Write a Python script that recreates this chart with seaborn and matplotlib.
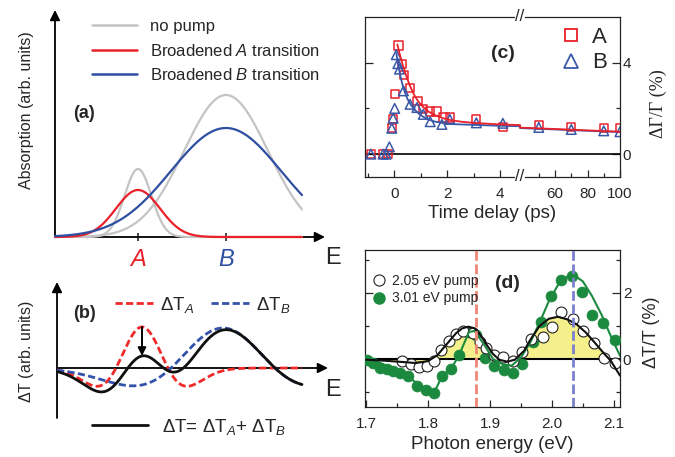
import numpy as np
import matplotlib
matplotlib.use("Agg")
import matplotlib.pyplot as plt
import seaborn as sns
from matplotlib.lines import Line2D
from matplotlib.ticker import FixedLocator

sns.set_theme(style="ticks")
plt.rcParams["font.family"] = ["Liberation Sans", "DejaVu Sans"]
plt.rcParams["mathtext.fontset"] = "custom"
plt.rcParams["mathtext.rm"] = "Liberation Sans"
plt.rcParams["mathtext.it"] = "Liberation Sans:italic"
plt.rcParams["mathtext.bf"] = "Liberation Sans:bold"

# ---------------- (a) schematic absorption: gaussian parameters ----------------
peak_names = ["A", "B"]
peak_pos = [0.83, 1.71]
nopump_height = [0.68, 1.42]
nopump_width = [0.135, 0.42]
broad_height = [0.47, 1.09]
broad_width = [0.22, 0.55]
E_END = 2.47

# ---------------- (b) schematic transmission change ----------------
dt_pos = [0.85, 1.66]
dt_height = [0.41, 0.40]
dt_width = [0.26, 0.52]
dt_sum_height = [0.29, 0.40]   # contribution of A, B in the drawn total
DT_END = 2.45

# ---------------- (c) kinetics ----------------
tA = [-0.88, -0.4, -0.24, -0.09, -0.04, 0.03, 0.16, 0.29, 0.38, 0.6, 0.88, 1.1, 1.36, 1.6,
      1.86, 2.1, 3.1, 4.1, 50, 70, 90, 100]
vA = [0, 0, 0, 1.15, 1.55, 2.62, 4.76, 3.94, 3.47, 2.89, 2.33, 1.98, 1.86, 1.86,
      1.6, 1.6, 1.52, 1.2, 1.27, 1.2, 1.13, 1.13]
tB = [-0.88, -0.42, -0.3, -0.18, -0.09, -0.04, 0.02, 0.08, 0.14, 0.2, 0.35, 0.6, 0.86, 1.1,
      1.36, 1.8, 2.1, 3.1, 4.1, 50, 70, 90, 100]
vB = [0, 0, 0, 0.32, 1.13, 1.57, 2.0, 4.35, 3.96, 3.72, 2.77, 2.18, 2.04, 1.74,
      1.42, 1.3, 1.52, 1.37, 1.35, 1.17, 1.08, 1.02, 0.98]
fitA_t = [0.12, 0.2, 0.3, 0.4, 0.5, 0.6, 0.75, 0.9, 1.1, 1.3, 1.55, 1.85, 2.2, 2.6, 3.1, 4.0,
          4.75, 38.5, 60, 80, 100]
fitA_v = [4.8, 4.42, 4.0, 3.62, 3.28, 2.98, 2.6, 2.32, 2.05, 1.86, 1.7, 1.57, 1.47, 1.41, 1.36,
          1.3, 1.27, 1.16, 1.1, 1.04, 0.98]
fitB_t = [0.08, 0.14, 0.22, 0.3, 0.4, 0.5, 0.62, 0.76, 0.92, 1.1, 1.3, 1.55, 1.85, 2.3, 3.0,
          4.0, 4.75, 38.5, 60, 80, 100]
fitB_v = [4.42, 4.0, 3.5, 3.1, 2.72, 2.42, 2.17, 1.96, 1.78, 1.63, 1.51, 1.42, 1.36, 1.31, 1.28,
          1.24, 1.22, 1.14, 1.08, 1.02, 0.97]
BREAK_LO, BREAK_HI, RIGHT_SCALE = 4.75, 38.5, 0.0613

# ---------------- (d) spectra ----------------
e205 = [1.757, 1.772, 1.786, 1.798, 1.810, 1.821, 1.833, 1.845, 1.857, 1.872, 1.884, 1.894,
        1.907, 1.921, 1.937, 1.951, 1.966, 1.986, 2.000, 2.015, 2.034, 2.051, 2.068, 2.084, 2.102]
v205 = [-0.07, -0.15, -0.25, -0.22, -0.06, 0.28, 0.55, 0.75, 0.85, 0.78, 0.52, 0.35,
        0.12, 0.05, -0.05, 0.2, 0.62, 0.68, 0.98, 1.43, 1.2, 0.85, 0.5, 0.02, -0.13]
e301 = [1.702, 1.711, 1.722, 1.733, 1.743, 1.754, 1.768, 1.782, 1.797, 1.810, 1.823, 1.837,
        1.850, 1.865, 1.877, 1.892, 1.906, 1.923, 1.937, 1.952, 1.969, 1.983, 1.998, 2.014,
        2.033, 2.049, 2.065, 2.083, 2.102]
v301 = [-0.03, -0.13, -0.28, -0.31, -0.36, -0.43, -0.52, -0.82, -0.94, -1.02, -0.52, -0.31,
        0.13, 0.83, 0.74, 0.02, -0.22, -0.33, -0.41, -0.14, 0.53, 1.13, 1.91, 2.4,
        2.5, 2.04, 1.33, 1.08, 0.58]
fit301_e = [1.70, 1.72, 1.74, 1.76, 1.78, 1.795, 1.81, 1.823, 1.837, 1.85, 1.866, 1.875, 1.89,
            1.905, 1.92, 1.935, 1.95, 1.965, 1.98, 1.995, 2.01, 2.025, 2.035, 2.05, 2.065,
            2.08, 2.095, 2.11]
fit301_v = [0.0, -0.1, -0.25, -0.45, -0.7, -0.9, -1.0, -0.5, -0.3, 0.12, 0.82, 0.85, 0.45,
            0.0, -0.15, -0.2, 0.05, 0.5, 1.1, 1.75, 2.25, 2.5, 2.55, 2.35, 1.9, 1.35, 0.7, 0.1]
fit205_e = [1.70, 1.73, 1.76, 1.78, 1.80, 1.815, 1.83, 1.845, 1.855, 1.865, 1.875, 1.885, 1.895,
            1.905, 1.915, 1.928, 1.94, 1.955, 1.965, 1.98, 1.995, 2.01, 2.025, 2.04, 2.055,
            2.07, 2.085, 2.095, 2.11]
fit205_v = [-0.02, -0.05, -0.09, -0.12, -0.06, 0.12, 0.45, 0.78, 0.93, 0.98, 0.93, 0.72, 0.42,
            0.15, -0.02, -0.08, -0.02, 0.25, 0.58, 1.0, 1.22, 1.28, 1.2, 1.05, 0.8,
            0.48, 0.15, -0.05, -0.5]
probe_A, probe_B = 1.877, 2.034

GREY, RED, BLUE = "#c4c4c4", "#e8212b", "#2d4fa1"
GREEN, YELLOW = "#1b8a3f", "#f6f08c"

W, H = 675.0, 457.0
fig = plt.figure(figsize=(6.75, 4.57), dpi=100)


def px_axes(l, t, r, b):
    return fig.add_axes([l / W, 1 - b / H, (r - l) / W, (b - t) / H])


def line(ax, x, y, **kw):
    sns.lineplot(x=np.asarray(x), y=np.asarray(y), ax=ax, sort=False, estimator=None, **kw)
    return ax.lines[-1]


def gauss(x, c, h, w):
    return h * np.exp(-0.5 * ((x - c) / w) ** 2)


def hat(x, c, h, w):
    u = (x - c) / w
    return h * (1 - u ** 2) * np.exp(-0.5 * u ** 2)


arrow_kw = dict(arrowstyle="-|>", color="black", lw=1.3, mutation_scale=15, shrinkA=0, shrinkB=0)

# ======================= (a) =======================
ax_a = px_axes(55, 5, 335, 237)
ax_a.set_xlim(0, 2.8)
ax_a.set_ylim(0, 2.32)
for s in ax_a.spines.values():
    s.set_visible(False)
ax_a.set_yticks([])
ax_a.set_xticks(peak_pos)
ax_a.set_xticklabels(peak_names, fontsize=17, fontstyle="italic")
for lbl, c in zip(ax_a.get_xticklabels(), [RED, BLUE]):
    lbl.set_color(c)
ax_a.tick_params(axis="x", direction="inout", length=6, width=1.2, pad=5)
ax_a.annotate("", xy=(2.7, 0), xytext=(0, 0), arrowprops=arrow_kw, annotation_clip=False)
ax_a.annotate("", xy=(0, 2.27), xytext=(0, 0), arrowprops=arrow_kw, annotation_clip=False)

energy = np.linspace(0, E_END, 500)
for i in range(2):
    line(ax_a, energy, gauss(energy, peak_pos[i], nopump_height[i], nopump_width[i]),
         color=GREY, lw=1.6, clip_on=False, zorder=3)
line(ax_a, energy, gauss(energy, peak_pos[0], broad_height[0], broad_width[0]),
     color=RED, lw=1.6, clip_on=False, zorder=4)
line(ax_a, energy, gauss(energy, peak_pos[1], broad_height[1], broad_width[1]),
     color=BLUE, lw=1.6, clip_on=False, zorder=4)
ax_a.text(2.78, -0.21, "E", fontsize=17, ha="center", va="center")
handles = [Line2D([], [], color=c, lw=1.8) for c in (GREY, RED, BLUE)]
ax_a.legend(handles, ["no pump", r"Broadened $\mathit{A}$ transition",
                      r"Broadened $\mathit{B}$ transition"],
            loc="upper left", bbox_to_anchor=(92 / W, 1 - 19 / H), bbox_transform=fig.transFigure,
            frameon=False, fontsize=12, handlelength=2.7, handletextpad=0.8, labelspacing=0.52,
            borderpad=0, borderaxespad=0)
fig.text(84 / W, 1 - 114 / H, "(a)", fontsize=13, fontweight="bold", ha="center", va="center")
fig.text(26 / W, 1 - 110 / H, "Absorption (arb. units)", fontsize=11.5, rotation=90,
         ha="center", va="center")

# ======================= (b) =======================
ax_b = px_axes(57, 275, 335, 420)
ax_b.set_xlim(0, 2.78)
ax_b.set_ylim(-0.52, 0.93)
ax_b.axis("off")
ax_b.annotate("", xy=(2.71, 0), xytext=(0, 0), arrowprops=arrow_kw, annotation_clip=False)
ax_b.annotate("", xy=(0, 0.86), xytext=(0, -0.5), arrowprops=arrow_kw, annotation_clip=False)

ex = np.linspace(0, DT_END, 500)
dtA = hat(ex, dt_pos[0], dt_height[0], dt_width[0])
dtB = hat(ex, dt_pos[1], dt_height[1], dt_width[1])
dt_total = hat(ex, dt_pos[0], dt_sum_height[0], dt_width[0]) + dtB
la = line(ax_b, ex, dtA, color="#ee2a2a", lw=2.0, zorder=3)
la.set_dashes((2.6, 1.2))
lb = line(ax_b, ex, dtB, color="#3352aa", lw=2.0, zorder=3)
lb.set_dashes((2.6, 1.2))
line(ax_b, ex, dt_total, color="#111111", lw=2.0, zorder=4)
top_a = hat(dt_pos[0], dt_pos[0], dt_height[0], dt_width[0])
top_sum = hat(dt_pos[0], dt_pos[0], dt_sum_height[0], dt_width[0]) + \
    hat(dt_pos[0], dt_pos[1], dt_height[1], dt_width[1])
ax_b.annotate("", xy=(dt_pos[0], top_sum), xytext=(dt_pos[0], top_a),
              arrowprops=dict(arrowstyle="-|>", color="black", lw=1.4, mutation_scale=12,
                              shrinkA=0, shrinkB=0), zorder=6)
ax_b.text(2.76, -0.22, "E", fontsize=17, ha="center", va="center")

hA = Line2D([], [], color="#ee2a2a", lw=2.0, dashes=(2.6, 1.2))
hB = Line2D([], [], color="#3352aa", lw=2.0, dashes=(2.6, 1.2))
leg1 = ax_b.legend([hA, hB], [r"$\Delta$T$_{\mathit{A}}$", r"$\Delta$T$_{\mathit{B}}$"],
                   loc="upper left", bbox_to_anchor=(115 / W, 1 - 295 / H),
                   bbox_transform=fig.transFigure, ncol=2, frameon=False, fontsize=13.5,
                   handlelength=2.0, handletextpad=0.4, columnspacing=0.9, borderpad=0,
                   borderaxespad=0)
ax_b.add_artist(leg1)
hT = Line2D([], [], color="#111111", lw=2.0)
ax_b.legend([hT], [r"$\Delta$T= $\Delta$T$_{\mathit{A}}$+ $\Delta$T$_{\mathit{B}}$"],
            loc="upper left", bbox_to_anchor=(92 / W, 1 - 417 / H),
            bbox_transform=fig.transFigure, frameon=False, fontsize=13.5,
            handlelength=3.0, handletextpad=0.75, borderpad=0, borderaxespad=0)
fig.text(84 / W, 1 - 313 / H, "(b)", fontsize=13, fontweight="bold", ha="center", va="center")
fig.text(26 / W, 1 - 352 / H, r"$\Delta$T (arb. units)", fontsize=11.5, rotation=90,
         ha="center", va="center")


# ======================= (c) =======================
def fwd(t):
    t = np.asarray(t, dtype=float)
    return np.where(t <= BREAK_LO, t, BREAK_LO + np.clip(t - BREAK_HI, 0, None) * RIGHT_SCALE)


def inv(u):
    u = np.asarray(u, dtype=float)
    return np.where(u <= BREAK_LO, u, BREAK_HI + (u - BREAK_LO) / RIGHT_SCALE)


ax_c = px_axes(365, 17, 620, 177)
ax_c.set_xscale("function", functions=(fwd, inv))
ax_c.set_xlim(-1.1, 100)
ax_c.set_ylim(-1.0, 6.0)
ax_c.axhline(0, color="black", lw=1.2, zorder=1)
sns.scatterplot(x=tA, y=vA, ax=ax_c, marker="s", s=36, facecolor="none", edgecolor=RED,
                linewidth=1.1, zorder=3)
sns.scatterplot(x=tB, y=vB, ax=ax_c, marker="^", s=48, facecolor="none", edgecolor="#3a58a8",
                linewidth=1.1, zorder=3)
line(ax_c, fitB_t, fitB_v, color="#3a58a8", lw=1.3, zorder=4)
line(ax_c, fitA_t, fitA_v, color=RED, lw=1.3, zorder=4)
ax_c.xaxis.set_major_locator(FixedLocator([0, 2, 4, 60, 80, 100]))
ax_c.xaxis.set_minor_locator(FixedLocator([-1, 1, 3, 50, 70, 90]))
ax_c.set_xticklabels(["0", "2", "4", "60", "80", "100"])
ax_c.yaxis.set_major_locator(FixedLocator([0, 4]))
ax_c.yaxis.set_minor_locator(FixedLocator([2]))
ax_c.tick_params(axis="both", which="both", direction="in", labelsize=11, width=0.9)
ax_c.tick_params(axis="x", which="major", length=5, pad=7, top=False)
ax_c.tick_params(axis="x", which="minor", length=3, top=False)
ax_c.tick_params(axis="y", which="major", length=6, pad=2, left=True, right=True,
                 labelleft=False, labelright=True)
ax_c.tick_params(axis="y", which="minor", length=3, left=True, right=True)
for s in ax_c.spines.values():
    s.set_linewidth(0.9)
    s.set_color("#222222")
ax_c.set_xlabel("Time delay (ps)", fontsize=13.5, labelpad=3)
for yy in (0, 1):
    ax_c.text(BREAK_LO, yy, "//", transform=ax_c.get_xaxis_transform(), fontsize=12,
              ha="center", va="center", clip_on=False,
              bbox=dict(facecolor="white", edgecolor="none", pad=0.3))
hsq = Line2D([], [], marker="s", ls="none", ms=9, mfc="none", mec=RED, mew=1.3)
htr = Line2D([], [], marker="^", ls="none", ms=10, mfc="none", mec="#3a58a8", mew=1.3)
ax_c.legend([hsq, htr], ["A", "B"], loc="upper left", bbox_to_anchor=(560 / W, 1 - 27 / H),
            bbox_transform=fig.transFigure, frameon=False, fontsize=16, handlelength=1.0,
            handletextpad=0.45, labelspacing=0.2, borderpad=0, borderaxespad=0)
fig.text(503 / W, 1 - 53 / H, "(c)", fontsize=14, fontweight="bold", ha="center", va="center")
fig.text(658 / W, 1 - 104 / H, "ΔΓ/Γ (%)", fontsize=13, rotation=90, ha="center", va="center",
         family=["Liberation Serif", "DejaVu Serif"])

# ======================= (d) =======================
ax_d = px_axes(365, 250, 620, 407)
ax_d.set_xlim(1.698, 2.11)
ax_d.set_ylim(-1.45, 3.3)
fe = np.asarray(fit205_e)
fv = np.asarray(fit205_v)
ax_d.fill_between(fe, fv, 0, where=(fe >= 1.76) & (fe <= 2.09) & ((fv > 0) | (fe < 1.81)),
                  interpolate=True, color=YELLOW, lw=0, zorder=1)
ax_d.axhline(0, color="black", lw=1.5, zorder=2)
sns.scatterplot(x=e301, y=v301, ax=ax_d, marker="o", s=62, color=GREEN, edgecolor=GREEN,
                linewidth=0.5, zorder=3)
sns.scatterplot(x=e205, y=v205, ax=ax_d, marker="o", s=62, facecolor="white", edgecolor="#222222",
                linewidth=0.8, zorder=3)
line(ax_d, fit301_e, fit301_v, color=GREEN, lw=1.5, zorder=4)
line(ax_d, fit205_e, fit205_v, color="#111111", lw=1.5, zorder=4)
va_ = ax_d.axvline(probe_A, color="#f08676", lw=2.0, zorder=5)
va_.set_dashes((3.5, 1.3))
vb_ = ax_d.axvline(probe_B, color="#7b80cc", lw=2.0, zorder=5)
vb_.set_dashes((3.5, 1.3))
ax_d.xaxis.set_major_locator(FixedLocator([1.7, 1.8, 1.9, 2.0, 2.1]))
ax_d.xaxis.set_minor_locator(FixedLocator([1.75, 1.85, 1.95, 2.05]))
ax_d.set_xticklabels(["1.7", "1.8", "1.9", "2.0", "2.1"])
ax_d.yaxis.set_major_locator(FixedLocator([0, 2]))
ax_d.yaxis.set_minor_locator(FixedLocator([-1, 1, 3]))
ax_d.tick_params(axis="both", which="both", direction="in", labelsize=11, width=0.9)
ax_d.tick_params(axis="x", which="major", length=5, pad=7, top=False)
ax_d.tick_params(axis="x", which="minor", length=3, top=False)
ax_d.tick_params(axis="y", which="major", length=6, pad=2, left=True, right=True,
                 labelleft=False, labelright=True)
ax_d.tick_params(axis="y", which="minor", length=3, left=True, right=True)
for s in ax_d.spines.values():
    s.set_linewidth(0.9)
    s.set_color("#222222")
ax_d.set_xlabel("Photon energy (eV)", fontsize=13.5, labelpad=4)
ho = Line2D([], [], marker="o", ls="none", ms=8, mfc="white", mec="#222222", mew=0.8)
hg = Line2D([], [], marker="o", ls="none", ms=8, mfc=GREEN, mec=GREEN)
ax_d.legend([ho, hg], ["2.05 eV pump", "3.01 eV pump"], loc="upper left",
            bbox_to_anchor=(373 / W, 1 - 274 / H), bbox_transform=fig.transFigure,
            frameon=False, fontsize=10, handlelength=0.8, handletextpad=0.6, labelspacing=0.25,
            borderpad=0, borderaxespad=0)
fig.text(507 / W, 1 - 283 / H, "(d)", fontsize=14, fontweight="bold", ha="center", va="center")
fig.text(652 / W, 1 - 332 / H, "ΔT/T (%)", fontsize=13, rotation=90, ha="center", va="center")

fig.savefig("out.png", dpi=100)
